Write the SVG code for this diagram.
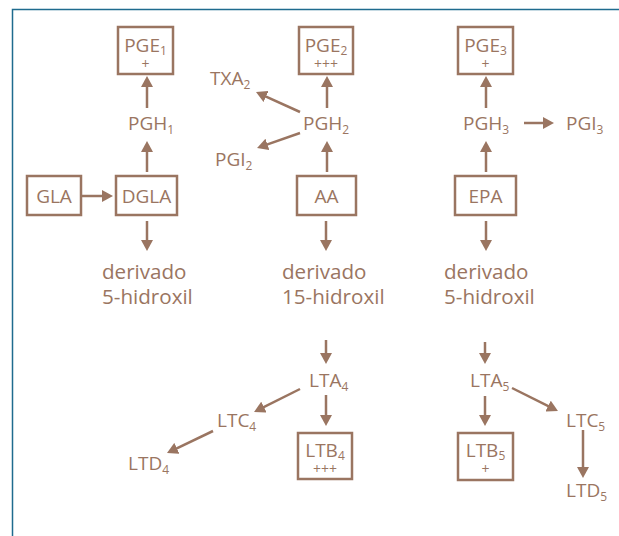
<svg xmlns="http://www.w3.org/2000/svg" width="619" height="536" viewBox="0 0 619 536">
<style>
.t{font-family:"Open Sans","Noto Sans","Liberation Sans",sans-serif;font-size:19px;fill:#9a7561}
.d{font-size:20.6px}
.p{font-size:14px}
.s{font-size:12px}
.m{text-anchor:middle}
.b{fill:none;stroke:#9a7561;stroke-width:2.5}
.c line{stroke:#9a7561;stroke-width:2.5;marker-end:url(#ah)}
</style>
<defs>
<marker id="ah" markerUnits="userSpaceOnUse" markerWidth="12" markerHeight="12" refX="3" refY="6" orient="auto">
<path d="M0,0 L11,6 L0,12 Z" fill="#9a7561"/>
</marker>
</defs>
<rect width="619" height="536" fill="#fff"/>
<path d="M12.5,536 V9.5 H619" fill="none" stroke="#1f6b8e" stroke-width="1.5"/>

<g id="PGE1"><rect class="b" x="118" y="27" width="55" height="47"/><text class="t m" x="145.5" y="52">PGE<tspan class="s" dy="3">1</tspan></text><text class="t p m" x="145.5" y="69">+</text></g>
<g id="PGE2"><rect class="b" x="299" y="27" width="54" height="47"/><text class="t m" x="326" y="52">PGE<tspan class="s" dy="3">2</tspan></text><text class="t p m" x="326" y="69">+++</text></g>
<g id="PGE3"><rect class="b" x="458" y="27" width="55" height="47"/><text class="t m" x="485.5" y="52">PGE<tspan class="s" dy="3">3</tspan></text><text class="t p m" x="485.5" y="69">+</text></g>

<g id="PGH1"><text class="t" x="128" y="130">PGH<tspan class="s" dy="4">1</tspan></text></g>
<g id="PGH2"><text class="t" x="303" y="130">PGH<tspan class="s" dy="4">2</tspan></text></g>
<g id="PGH3"><text class="t" x="463" y="130">PGH<tspan class="s" dy="4">3</tspan></text></g>
<g id="TXA2"><text class="t" x="210" y="85">TXA<tspan class="s" dy="4">2</tspan></text></g>
<g id="PGI2"><text class="t" x="215" y="166">PGI<tspan class="s" dy="4">2</tspan></text></g>
<g id="PGI3"><text class="t" x="566" y="130">PGI<tspan class="s" dy="4">3</tspan></text></g>

<g id="GLA"><rect class="b" x="27" y="176" width="54" height="39"/><text class="t m" x="54" y="203">GLA</text></g>
<g id="DGLA"><rect class="b" x="116" y="176" width="61" height="39"/><text class="t m" x="146.5" y="203">DGLA</text></g>
<g id="AA"><rect class="b" x="297" y="176" width="59" height="39"/><text class="t m" x="326.5" y="203">AA</text></g>
<g id="EPA"><rect class="b" x="455" y="176" width="61" height="39"/><text class="t m" x="485.5" y="203">EPA</text></g>

<g id="der1"><text class="t d" x="102" y="279">derivado</text><text class="t d" x="102" y="304">5-hidroxil</text></g>
<g id="der2"><text class="t d" x="282" y="279">derivado</text><text class="t d" x="282" y="304">15-hidroxil</text></g>
<g id="der3"><text class="t d" x="444" y="279">derivado</text><text class="t d" x="444" y="304">5-hidroxil</text></g>

<g id="LTA4"><text class="t" x="309" y="387">LTA<tspan class="s" dy="4">4</tspan></text></g>
<g id="LTB4"><rect class="b" x="298" y="433" width="54" height="46"/><text class="t m" x="325" y="457">LTB<tspan class="s" dy="3">4</tspan></text><text class="t p m" x="325" y="474">+++</text></g>
<g id="LTC4"><text class="t" x="217" y="427">LTC<tspan class="s" dy="4">4</tspan></text></g>
<g id="LTD4"><text class="t" x="128" y="470">LTD<tspan class="s" dy="4">4</tspan></text></g>

<g id="LTA5"><text class="t" x="470" y="387">LTA<tspan class="s" dy="4">5</tspan></text></g>
<g id="LTB5"><rect class="b" x="458" y="433" width="55" height="47"/><text class="t m" x="485.5" y="457">LTB<tspan class="s" dy="3">5</tspan></text><text class="t p m" x="485.5" y="474">+</text></g>
<g id="LTC5"><text class="t" x="566" y="427">LTC<tspan class="s" dy="4">5</tspan></text></g>
<g id="LTD5"><text class="t" x="566" y="497">LTD<tspan class="s" dy="4">5</tspan></text></g>

<g id="connectors" class="c">
<line x1="147" y1="108" x2="147" y2="84"/>
<line x1="147" y1="172" x2="147" y2="149"/>
<line x1="327" y1="108" x2="327" y2="84"/>
<line x1="327" y1="172" x2="327" y2="149"/>
<line x1="486" y1="108" x2="486" y2="84"/>
<line x1="486" y1="172" x2="486" y2="149"/>
<line x1="82" y1="196" x2="105" y2="196"/>
<line x1="147" y1="221" x2="147" y2="243"/>
<line x1="326" y1="221" x2="326" y2="243"/>
<line x1="486" y1="221" x2="486" y2="243"/>
<line x1="524" y1="123" x2="546" y2="123"/>
<line x1="300" y1="112" x2="263.3" y2="95.3"/>
<line x1="300" y1="133" x2="264.6" y2="145.4"/>
<line x1="326" y1="340" x2="326" y2="356"/>
<line x1="326" y1="395" x2="326" y2="418"/>
<line x1="300" y1="389" x2="261.2" y2="408.4"/>
<line x1="213" y1="431" x2="174.2" y2="449.6"/>
<line x1="485" y1="342" x2="485" y2="356"/>
<line x1="485" y1="396" x2="485" y2="418"/>
<line x1="512" y1="388" x2="550.8" y2="407.4"/>
<line x1="583" y1="430" x2="583" y2="470"/>
</g>
</svg>
